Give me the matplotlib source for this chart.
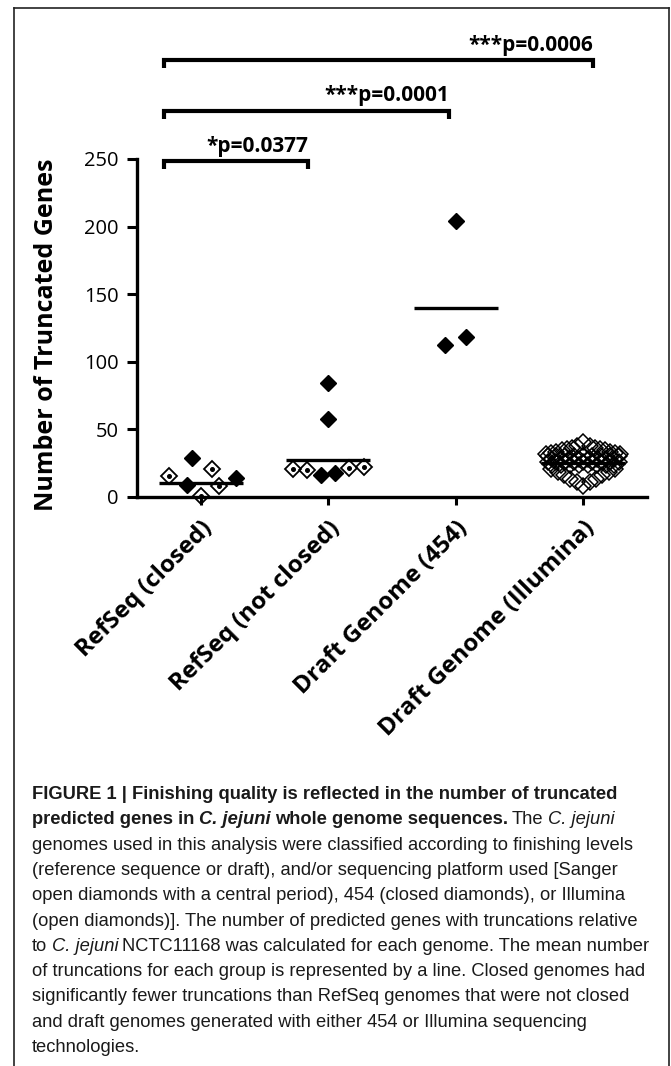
import matplotlib
matplotlib.use('Agg')
import matplotlib.pyplot as plt
from matplotlib.lines import Line2D

plt.rcParams['font.family'] = ['Open Sans', 'DejaVu Sans']

groups = ['RefSeq (closed)', 'RefSeq (not closed)', 'Draft Genome (454)', 'Draft Genome (Illumina)']
group_means = [10.4, 27.7, 139.6, 25.0]

# Sanger genomes (open diamond with a central dot)
sanger_group = [0, 0, 0, 0, 1, 1, 1, 1]
sanger_x = [-0.25, 0.0, 0.09, 0.14, -0.275, -0.17, 0.165, 0.28]
sanger_y = [15.6, 1.0, 21.0, 8.0, 21.0, 20.3, 21.5, 22.3]

# 454 genomes (closed diamonds)
closed_group = [0, 0, 0, 1, 1, 1, 1, 2, 2, 2]
closed_x = [-0.11, -0.065, 0.275, 0.0, 0.0, -0.06, 0.055, 0.0, -0.084, 0.078]
closed_y = [8.9, 28.5, 14.4, 84.0, 58.0, 16.0, 18.0, 204.0, 112.3, 118.5]

# Illumina genomes (open diamonds), all in group 3
illumina_x = [0.0, -0.05, 0.05,
              -0.29, -0.25, -0.21, -0.17, -0.13, -0.09, 0.09, 0.13, 0.17, 0.21, 0.25, 0.29,
              -0.28, -0.21, -0.14, -0.07, 0.0, 0.07, 0.14, 0.21, 0.28,
              -0.245, -0.175, -0.105, -0.035, 0.035, 0.105, 0.175, 0.245,
              -0.28, -0.21, -0.14, -0.07, 0.0, 0.07, 0.14, 0.21, 0.28,
              -0.245, -0.175, -0.105, -0.035, 0.035, 0.105, 0.175, 0.245,
              -0.25, 0.25, -0.2, 0.2, -0.15, 0.15, -0.1, 0.1, -0.05, 0.05, 0.0]
illumina_y = [41.0, 37.5, 37.5,
              31.5, 32.5, 33.5, 34.5, 35.5, 36.5, 36.5, 35.5, 34.5, 33.5, 32.5, 31.5,
              30, 30, 30, 30, 30, 30, 30, 30, 30,
              28, 28, 28, 28, 28, 28, 28, 28,
              26, 26, 26, 26, 26, 26, 26, 26, 26,
              23.5, 23.5, 23.5, 23.5, 23.5, 23.5, 23.5, 23.5,
              21, 21, 18.5, 18.5, 16, 16, 13.5, 13.5, 11, 11, 8.5]

# significance brackets
bracket_left = [-0.29, -0.29, -0.29]
bracket_right = [0.84, 1.95, 3.08]
bracket_y = [248.5, 285.8, 323.0]
bracket_text = ['*p=0.0377', '***p=0.0001', '***p=0.0006']

W, H = 671, 1066
fig = plt.figure(figsize=(W / 100, H / 100), dpi=100)
ax = fig.add_axes([137 / W, 1 - 497 / H, 510 / W, 338 / H])

diamond = dict(marker='D', ms=8.5, linestyle='none', clip_on=False, zorder=3)
ax.plot([g + o for g, o in zip(sanger_group, sanger_x)], sanger_y,
        mfc='none', mec='black', mew=1.3, **diamond)
ax.plot([g + o for g, o in zip(sanger_group, sanger_x)], sanger_y,
        marker='o', ms=2.6, color='black', linestyle='none', clip_on=False, zorder=3)
ax.plot([g + o for g, o in zip(closed_group, closed_x)], closed_y,
        mfc='black', mec='black', mew=1.0, **diamond)
ax.plot([3 + o for o in illumina_x], illumina_y,
        mfc='none', mec='black', mew=1.1, **diamond)

for i, m in enumerate(group_means):
    ax.plot([i - 0.33, i + 0.33], [m, m], color='black', lw=2.4, zorder=4, solid_capstyle='butt')

for x0, x1, y, t in zip(bracket_left, bracket_right, bracket_y, bracket_text):
    ax.plot([x0, x0, x1, x1], [y - 6, y, y, y - 6], color='black', lw=3,
            clip_on=False, solid_joinstyle='miter', solid_capstyle='butt')
    ax.text(x1, y + 7, t, ha='right', va='baseline', fontsize=15, fontweight='bold')

ax.set_xlim(-0.5, 3.5)
ax.set_ylim(0, 250)
ax.set_yticks([0, 50, 100, 150, 200, 250])
ax.set_xticks(range(4))
ax.set_xticklabels(groups, rotation=45, ha='right', rotation_mode='anchor',
                   fontsize=17.5, fontweight='bold')
ax.tick_params(axis='y', labelsize=14.5, length=7, width=2.2, pad=6, direction='out')
ax.tick_params(axis='x', length=6, width=2.2, pad=8, direction='out')
for s in ['top', 'right']:
    ax.spines[s].set_visible(False)
for s in ['left', 'bottom']:
    ax.spines[s].set_linewidth(2.4)

ax.set_ylabel('Number of Truncated Genes', fontsize=18, fontweight='bold')
ax.yaxis.set_label_coords(-0.152, 0.48)

# frame around the figure
fk = dict(color='#222222', lw=1.2)
fig.add_artist(Line2D([13.5 / W, 13.5 / W], [0, 1 - 7.5 / H], **fk))
fig.add_artist(Line2D([13.5 / W, 669 / W], [1 - 7.5 / H, 1 - 7.5 / H], **fk))
fig.add_artist(Line2D([669 / W, 669 / W], [0, 1 - 7.5 / H], **fk))

# caption
cap_font = ['Liberation Sans', 'DejaVu Sans']
R, B = 'normal', 'bold'
caption = [
    [("FIGURE 1 | Finishing quality is reflected in the number of truncated", B, R)],
    [("predicted genes in", B, R), ("C. jejuni", B, 'italic'), ("whole genome sequences.", B, R),
     ("The", R, R), ("C. jejuni", R, 'italic')],
    [("genomes used in this analysis were classified according to finishing levels", R, R)],
    [("(reference sequence or draft), and/or sequencing platform used [Sanger", R, R)],
    [("open diamonds with a central period), 454 (closed diamonds), or Illumina", R, R)],
    [("(open diamonds)]. The number of predicted genes with truncations relative", R, R)],
    [("to", R, R), ("C. jejuni", R, 'italic'),
     ("NCTC11168 was calculated for each genome. The mean number", R, R)],
    [("of truncations for each group is represented by a line. Closed genomes had", R, R)],
    [("significantly fewer truncations than RefSeq genomes that were not closed", R, R)],
    [("and draft genomes generated with either 454 or Illumina sequencing", R, R)],
    [("technologies.", R, R)],
]
for i, segs in enumerate(caption):
    y = 1 - (799 + 25.3 * i) / H
    prev = None
    for txt, wt, st in segs:
        kw = dict(fontsize=13.2, fontweight=wt, fontstyle=st, family=cap_font, color='#1a1a1a')
        if prev is None:
            prev = fig.text(32 / W, y, txt, ha='left', va='baseline', **kw)
        else:
            prev = ax.annotate(txt, xy=(1, 0), xycoords=prev, xytext=(3.1, 0),
                               textcoords='offset points', ha='left', va='bottom', **kw)

fig.savefig('out.png', dpi=100)
